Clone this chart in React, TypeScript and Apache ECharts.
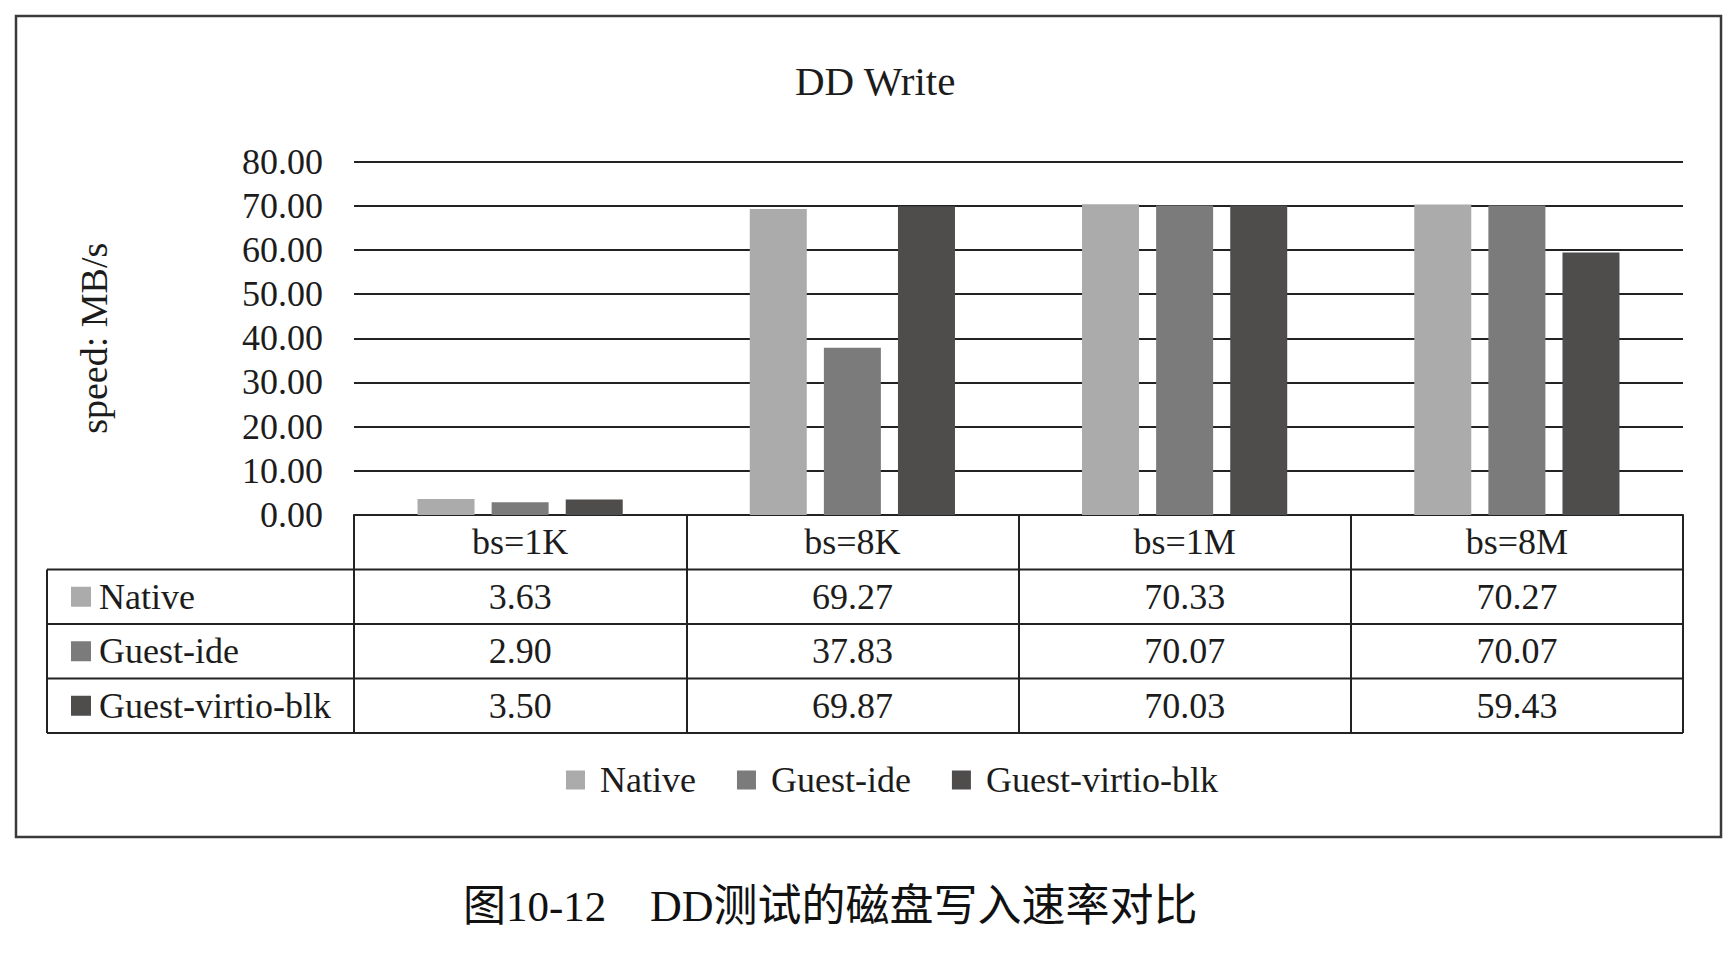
import React, { useEffect, useRef } from "react";
import * as echarts from "echarts";

const categories = ["bs=1K", "bs=8K", "bs=1M", "bs=8M"];
const seriesNames = ["Native", "Guest-ide", "Guest-virtio-blk"];
const nativeValues = [3.63, 69.27, 70.33, 70.27];
const guestIdeValues = [2.9, 37.83, 70.07, 70.07];
const guestVirtioValues = [3.5, 69.87, 70.03, 59.43];
const seriesColors = ["#ababab", "#7b7b7b", "#4f4d4c"];
const yTicks = { min: 0, max: 80, interval: 10 };
const titleText = "DD Write";
const yAxisName = "speed: MB/s";
const captionLead = "图10-12";
const captionMain = "DD测试的磁盘写入速率对比";

const SERIF = "'Liberation Serif', 'Times New Roman', 'Noto Sans CJK SC', serif";
const INK = "#1c1c1c";
const LINE = "#222222";

export default function App() {
  const ref = useRef<HTMLDivElement>(null);

  useEffect(() => {
    if (!ref.current) return;
    const chart = echarts.init(ref.current, null, { renderer: "svg" });

    const W = 1736;
    const H = 962;
    const gridLeft = 354;
    const gridRight = 1683;
    const gridTop = 161.5;
    const gridBottom = 515;
    const rowH = 54.5;
    const tableLeft = 47;
    const allValues = [nativeValues, guestIdeValues, guestVirtioValues];

    const tableRowAxes = allValues.map((vals, i) => ({
      type: "category" as const,
      gridIndex: 0,
      position: "bottom" as const,
      offset: rowH * (i + 1),
      data: categories,
      axisLine: { show: false },
      axisTick: { show: false },
      splitLine: { show: false },
      axisLabel: {
        interval: 0,
        margin: rowH / 2,
        verticalAlign: "middle" as const,
        fontSize: 36,
        fontFamily: SERIF,
        color: INK,
        formatter: (_v: string, idx: number) => vals[idx].toFixed(2),
      },
    }));

    const graphics: any[] = [];
    graphics.push({
      type: "rect",
      shape: { x: 16, y: 16, width: 1705, height: 821 },
      style: { fill: "none", stroke: "#3a3a3a", lineWidth: 2.5 },
      silent: true,
    });
    for (let k = 1; k <= 4; k++) {
      const y = gridBottom + rowH * k;
      graphics.push({
        type: "line",
        shape: { x1: tableLeft, y1: y, x2: gridRight, y2: y },
        style: { stroke: LINE, lineWidth: 2 },
        silent: true,
      });
    }
    graphics.push({
      type: "line",
      shape: { x1: tableLeft, y1: gridBottom + rowH, x2: tableLeft, y2: gridBottom + rowH * 4 },
      style: { stroke: LINE, lineWidth: 2 },
      silent: true,
    });
    seriesNames.forEach((name, i) => {
      const cy = gridBottom + rowH * (i + 1) + rowH / 2;
      graphics.push({
        type: "rect",
        shape: { x: 71, y: cy - 10, width: 20, height: 20 },
        style: { fill: seriesColors[i] },
        silent: true,
      });
      graphics.push({
        type: "text",
        x: 99,
        y: cy,
        style: {
          text: name,
          fontSize: 36,
          fontFamily: SERIF,
          fill: INK,
          verticalAlign: "middle",
          align: "left",
        },
        silent: true,
      });
    });
    graphics.push({
      type: "text",
      x: 463,
      y: 906,
      style: {
        text: captionLead,
        fontSize: 43,
        fontFamily: SERIF,
        fill: "#111",
        verticalAlign: "middle",
        align: "left",
      },
      silent: true,
    });
    graphics.push({
      type: "text",
      x: 650,
      y: 906,
      style: {
        text: captionMain,
        fontSize: 44,
        fontFamily: SERIF,
        fill: "#111",
        verticalAlign: "middle",
        align: "left",
      },
      silent: true,
    });

    const option: any = {
      animation: false,
      backgroundColor: "#ffffff",
      title: {
        text: titleText,
        left: 790,
        top: 55,
        textStyle: { fontSize: 41, fontWeight: "normal", fontFamily: SERIF, color: INK },
      },
      legend: {
        data: seriesNames,
        left: 561,
        top: 757,
        icon: "rect",
        itemWidth: 19,
        itemHeight: 19,
        itemGap: 41,
        textStyle: { fontSize: 36, fontFamily: SERIF, color: INK, padding: [0, 0, 0, 10] },
      },
      grid: {
        left: gridLeft,
        right: W - gridRight,
        top: gridTop,
        bottom: H - gridBottom,
        containLabel: false,
      },
      xAxis: [
        {
          type: "category",
          data: categories,
          position: "bottom",
          axisLine: { show: true, lineStyle: { color: LINE, width: 2 } },
          axisTick: {
            show: true,
            interval: 0,
            alignWithLabel: false,
            length: rowH * 4,
            lineStyle: { color: LINE, width: 2 },
          },
          axisLabel: {
            interval: 0,
            margin: rowH / 2,
            verticalAlign: "middle",
            fontSize: 36,
            fontFamily: SERIF,
            color: INK,
          },
          splitLine: { show: false },
        },
        ...tableRowAxes,
      ],
      yAxis: {
        type: "value",
        min: yTicks.min,
        max: yTicks.max,
        interval: yTicks.interval,
        name: yAxisName,
        nameLocation: "middle",
        nameRotate: 90,
        nameGap: 241,
        nameTextStyle: { fontSize: 38, fontFamily: SERIF, color: INK },
        axisLine: { show: false },
        axisTick: { show: false },
        axisLabel: {
          margin: 31,
          fontSize: 36,
          fontFamily: SERIF,
          color: INK,
          formatter: (v: number) => v.toFixed(2),
        },
        splitLine: { show: true, lineStyle: { color: LINE, width: 2 } },
      },
      series: allValues.map((vals, i) => ({
        name: seriesNames[i],
        type: "bar",
        data: vals,
        barWidth: 57,
        barGap: "30%",
        itemStyle: { color: seriesColors[i] },
        z: 3,
      })),
      graphic: graphics,
    };

    chart.setOption(option);
    return () => chart.dispose();
  }, []);

  return (
    <div
      ref={ref}
      style={{ position: "fixed", left: 0, top: 0, width: 1736, height: 962, background: "#fff" }}
    />
  );
}
